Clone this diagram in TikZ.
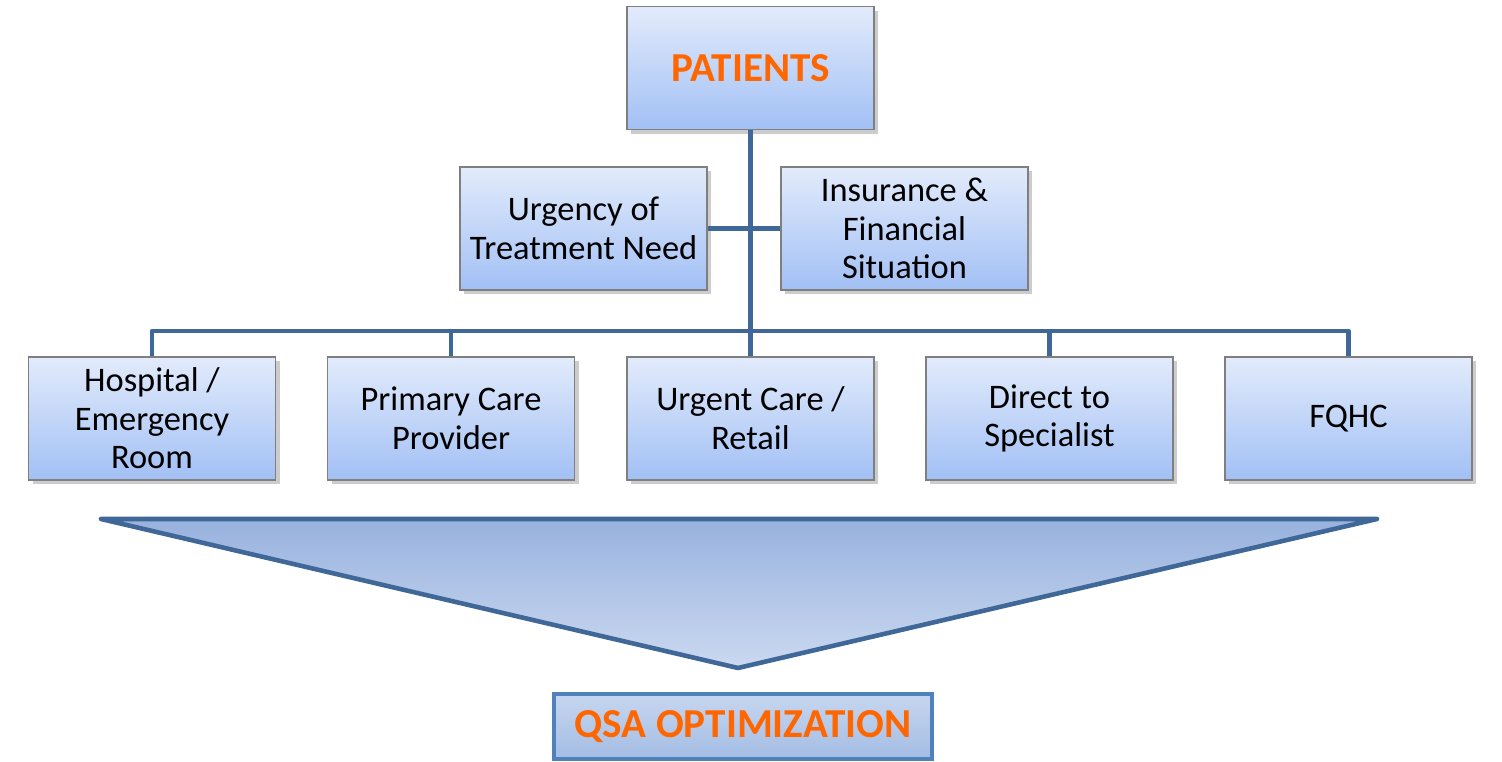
\documentclass[tikz,border=0pt]{standalone}
\usepackage{fontspec}
\setmainfont{Carlito}
\usetikzlibrary{positioning,shadows}
\definecolor{naranja}{HTML}{FF6600}
\definecolor{azuloscuro}{HTML}{3F6797}
\definecolor{azulborde}{HTML}{4F81BD}
\definecolor{grisborde}{HTML}{7F7F7F}
\definecolor{cajaarriba}{HTML}{E2EBFB}
\definecolor{cajaabajo}{HTML}{A2C0F5}

\begin{document}
\begin{tikzpicture}[x=0.1mm, y=-0.1mm,
    caja/.style={draw=grisborde, line width=0.4pt, top color=cajaarriba,
      bottom color=cajaabajo,
      minimum width=24.7mm, minimum height=12.3mm, inner sep=0pt, align=center,
      font=\fontsize{9.8}{11}\selectfont,
      drop shadow={shadow xshift=1.2pt, shadow yshift=-1.2pt, opacity=0.4}},
    titulo/.style={font=\fontsize{11.7}{13}\selectfont\bfseries, text=naranja},
    linea/.style={draw=azuloscuro, line width=1.3pt, line join=round}]
    \useasboundingbox (0,0) rectangle (1502,762);
    % patients and the two factors
    \node[caja, titulo] (pat) at (750.5,68) {PATIENTS};
    \node[caja] (urg) at (583.5,228.5) {Urgency of\\Treatment Need};
    \node[caja] (ins) at (904.5,228.5) {Insurance \&\\Financial\\Situation};
    % points of care
    \node[caja] (hosp) at (152,418.5) {Hospital /\\Emergency\\Room};
    \node[caja] (prim) at (451,418.5) {Primary Care\\Provider};
    \node[caja] (urgc) at (750.5,418.5) {Urgent Care /\\Retail};
    \node[caja] (dir) at (1049.5,418.5) {Direct to\\Specialist};
    \node[caja] (fqhc) at (1348.5,418.5) {FQHC};
    \coordinate (barra) at (750.5,331);
    \draw[linea] (pat.south) -- (barra);
    \draw[linea] (urg.east) -- (ins.west);
    \draw[linea] (hosp.north) |- (barra) -| (fqhc.north);
    \foreach \n in {prim,urgc,dir} \draw[linea] (\n.north) -- (\n.north |- barra);
    % funnel
    \draw[linea, top color={rgb,255:red,152;green,178;blue,222},
      bottom color={rgb,255:red,203;green,217;blue,240}]
      (101,519) -- (1377,519) -- (738,668) -- cycle;
    \node[titulo, draw=azulborde, line width=1pt,
      top color={rgb,255:red,198;green,214;blue,239},
      bottom color={rgb,255:red,164;green,189;blue,228},
      minimum width=37.8mm, minimum height=6.5mm, inner sep=0pt] (qsa) at (743,726.5) {QSA OPTIMIZATION};
\end{tikzpicture}
\end{document}
